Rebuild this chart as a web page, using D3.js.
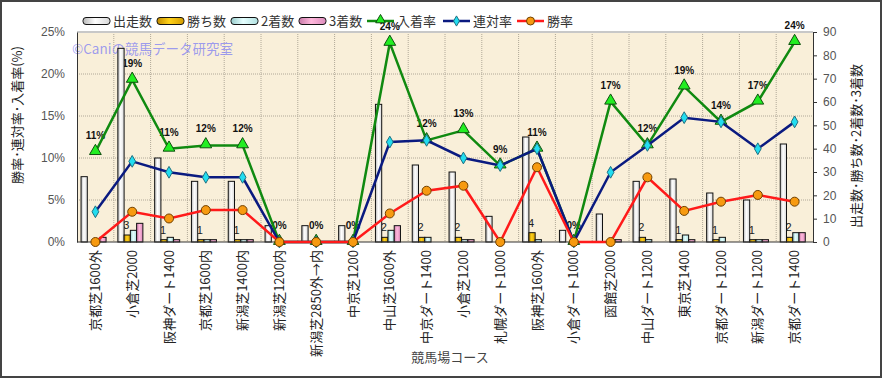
<!DOCTYPE html>
<html lang="ja">
<head>
<meta charset="utf-8">
<script src="https://cdn.jsdelivr.net/npm/d3@7"></script>
<style>
  body { margin: 0; background: #fff; }
  text { font-family: "Noto Sans CJK JP", "Liberation Sans", sans-serif; }
</style>
</head>
<body>
<script>
// courses and counts
const courses = ['京都芝1600外', '小倉芝2000', '阪神ダート1400', '京都芝1600内', '新潟芝1400内',
  '新潟芝1200内', '新潟芝2850外→内', '中京芝1200', '中山芝1600外', '中京ダート1400',
  '小倉芝1200', '札幌ダート1000', '阪神芝1600外', '小倉ダート1000', '函館芝2000',
  '中山ダート1200', '東京芝1400', '京都ダート1200', '新潟ダート1200', '京都ダート1400'];
const runs    = [28, 83, 36, 26, 26, 7, 7, 7, 59, 33, 30, 11, 45, 5, 12, 26, 27, 21, 18, 42];
const wins    = [0, 3, 1, 1, 1, 0, 0, 0, 2, 2, 2, 0, 4, 0, 0, 2, 1, 1, 1, 2];
const seconds = [1, 5, 2, 1, 1, 0, 0, 0, 5, 2, 1, 1, 1, 0, 1, 1, 3, 2, 1, 4];
const thirds  = [2, 8, 1, 1, 1, 0, 0, 0, 7, 0, 1, 0, 0, 0, 1, 0, 1, 0, 1, 4];
// rates (%)
const winRate    = [0, 3.6, 2.8, 3.8, 3.8, 0, 0, 0, 3.4, 6.1, 6.7, 0, 8.9, 0, 0, 7.7, 3.7, 4.8, 5.6, 4.8];
const rentaiRate = [3.6, 9.6, 8.3, 7.7, 7.7, 0, 0, 0, 11.9, 12.1, 10.0, 9.1, 11.1, 0, 8.3, 11.5, 14.8, 14.3, 11.1, 14.3];
const placeRate  = [10.7, 19.3, 11.1, 11.5, 11.5, 0, 0, 0, 23.7, 12.1, 13.3, 9.1, 11.1, 0, 16.7, 11.5, 18.5, 14.3, 16.7, 23.8];
const rateTicks  = [0, 5, 10, 15, 20, 25];
const countTicks = [0, 10, 20, 30, 40, 50, 60, 70, 80, 90];

const W = 882, H = 378;
const plot = {left: 77, right: 813, top: 32, bottom: 242};

const svg = d3.select('body').append('svg').attr('width', W).attr('height', H);

// gradients
const defs = svg.append('defs');
const grads = {
  run:  ['#b8b8b8', '#ffffff', '#d8d8d8'],
  win:  ['#c08a00', '#ffd21a', '#d49c00'],
  sec:  ['#98cccc', '#e6ffff', '#b0e0e0'],
  thr:  ['#c87aa8', '#ffb8dc', '#dc8cbc']
};
Object.keys(grads).forEach(function(k) {
  const g = defs.append('linearGradient').attr('id', 'g_' + k)
    .attr('x1', 0).attr('x2', 1).attr('y1', 0).attr('y2', 0);
  g.append('stop').attr('offset', '0%').attr('stop-color', grads[k][0]);
  g.append('stop').attr('offset', '45%').attr('stop-color', grads[k][1]);
  g.append('stop').attr('offset', '100%').attr('stop-color', grads[k][2]);
});

svg.append('rect').attr('x', 1).attr('y', 1).attr('width', W - 2).attr('height', H - 2)
  .attr('fill', '#fff').attr('stroke', '#444').attr('stroke-width', 2);

const x = d3.scaleBand().domain(courses).range([plot.left, plot.right]);
const xi = d3.scaleBand().domain(['run', 'win', 'sec', 'thr'])
  .range([x.bandwidth() * 0.11, x.bandwidth() * 0.79]);
const yRate = d3.scaleLinear().domain([0, 25]).range([plot.bottom, plot.top]);
const yCount = d3.scaleLinear().domain([0, 90]).range([plot.bottom, plot.top]);

// plot background
svg.append('rect').attr('x', plot.left).attr('y', plot.top)
  .attr('width', plot.right - plot.left).attr('height', plot.bottom - plot.top)
  .attr('fill', '#f9efd9');

// grid
svg.append('g').selectAll('line').data(rateTicks.slice(1, -1)).enter().append('line')
  .attr('x1', plot.left).attr('x2', plot.right)
  .attr('y1', d => yRate(d)).attr('y2', d => yRate(d))
  .attr('stroke', '#b0a898').attr('stroke-dasharray', '1,1');
svg.append('g').selectAll('line').data(courses.slice(1)).enter().append('line')
  .attr('x1', d => x(d)).attr('x2', d => x(d))
  .attr('y1', plot.top).attr('y2', plot.bottom)
  .attr('stroke', '#b0a898').attr('stroke-dasharray', '1,1');
svg.append('line').attr('x1', plot.left).attr('x2', plot.right)
  .attr('y1', plot.top).attr('y2', plot.top).attr('stroke', '#c8c8c8').attr('stroke-width', 2);

// watermark
svg.append('text').attr('x', 72).attr('y', 54).text('©Caniの競馬データ研究室')
  .attr('font-size', 13.5).attr('fill', '#8c8cf0').attr('fill-opacity', 0.85);

// rate labels (under bars)
svg.append('g').selectAll('text').data(placeRate).enter().append('text')
  .attr('x', (d, i) => x(courses[i]) + x.bandwidth() / 2)
  .attr('y', d => yRate(d) - 13)
  .attr('text-anchor', 'middle').attr('font-size', 10).attr('font-weight', 'bold')
  .style('font-family', '"Liberation Sans", sans-serif')
  .attr('fill', '#111').text(d => Math.round(d) + '%');

// win count labels
const winLab = svg.append('g');
wins.forEach(function(d, i) {
  if (d <= 0) return;
  winLab.append('text')
    .attr('x', x(courses[i]) + xi('win') + xi.bandwidth() / 2 - 1)
    .attr('y', yCount(d) - 6)
    .attr('text-anchor', 'middle').attr('font-size', 11)
    .style('font-family', '"Liberation Sans", sans-serif')
    .attr('fill', '#222').text(d);
});

// bars
const series = [['run', runs], ['win', wins], ['sec', seconds], ['thr', thirds]];
series.forEach(function(s) {
  svg.append('g').selectAll('rect').data(s[1]).enter().append('rect')
    .attr('x', (d, i) => x(courses[i]) + xi(s[0]))
    .attr('y', d => yCount(d))
    .attr('width', xi.bandwidth())
    .attr('height', d => yCount(0) - yCount(d))
    .attr('fill', 'url(#g_' + s[0] + ')')
    .attr('stroke', '#111').attr('stroke-width', 1);
});

// axes
const leftAxis = svg.append('g').attr('transform', 'translate(' + plot.left + ',0)')
  .call(d3.axisLeft(yRate).tickValues(rateTicks).tickFormat(d => d + '%').tickSize(0).tickPadding(12));
const rightAxis = svg.append('g').attr('transform', 'translate(' + plot.right + ',0)')
  .call(d3.axisRight(yCount).tickValues(countTicks).tickSize(4).tickPadding(6));
[leftAxis, rightAxis].forEach(function(a) {
  a.select('.domain').attr('stroke', '#333');
  a.selectAll('text').attr('font-size', 12).attr('fill', '#555')
    .style('font-family', '"Liberation Sans", sans-serif');
  a.selectAll('line').attr('stroke', '#333');
});
svg.append('line').attr('x1', plot.left).attr('x2', plot.right)
  .attr('y1', plot.bottom).attr('y2', plot.bottom).attr('stroke', '#333');

// lines
const cx = i => x(courses[i]) + x.bandwidth() / 2;
const lineGen = y => d3.line().x((d, i) => cx(i)).y(d => y(d));

svg.append('path').datum(placeRate).attr('d', lineGen(yRate))
  .attr('fill', 'none').attr('stroke', '#108a10').attr('stroke-width', 2.5);
svg.append('g').selectAll('path').data(placeRate).enter().append('path')
  .attr('d', d3.symbol(d3.symbolTriangle, 60))
  .attr('transform', (d, i) => 'translate(' + cx(i) + ',' + (yRate(d) - 1) + ')')
  .attr('fill', '#22ee22').attr('stroke', '#105010');

svg.append('path').datum(rentaiRate).attr('d', lineGen(yRate))
  .attr('fill', 'none').attr('stroke', '#0a1a80').attr('stroke-width', 2.5);
svg.append('g').selectAll('path').data(rentaiRate).enter().append('path')
  .attr('d', d3.symbol(d3.symbolDiamond, 40))
  .attr('transform', (d, i) => 'translate(' + cx(i) + ',' + yRate(d) + ')')
  .attr('fill', '#22ddf0').attr('stroke', '#207080');

svg.append('path').datum(winRate).attr('d', lineGen(yRate))
  .attr('fill', 'none').attr('stroke', '#ff1a1a').attr('stroke-width', 2.5);
svg.append('g').selectAll('circle').data(winRate).enter().append('circle')
  .attr('cx', (d, i) => cx(i)).attr('cy', d => yRate(d)).attr('r', 4.5)
  .attr('fill', '#f79a10').attr('stroke', '#704000');

// x labels
svg.append('g').selectAll('text').data(courses).enter().append('text')
  .attr('transform', d => 'translate(' + (x(d) + x.bandwidth() / 2) + ',250) rotate(-90)')
  .attr('text-anchor', 'end').attr('dy', '0.35em')
  .attr('font-size', 13).attr('fill', '#222').text(d => d);

// axis titles
svg.append('text').attr('x', 450).attr('y', 362).attr('text-anchor', 'middle')
  .attr('font-size', 13).attr('fill', '#444').text('競馬場コース');
svg.append('text').attr('transform', 'translate(22,115) rotate(-90)')
  .attr('text-anchor', 'middle').attr('font-size', 13).attr('fill', '#222')
  .text('勝率･連対率･入着率(%)');
svg.append('text').attr('transform', 'translate(861,146) rotate(-90)')
  .attr('text-anchor', 'middle').attr('font-size', 13).attr('fill', '#222')
  .text('出走数･勝ち数･2着数･3着数');

// legend
const legendItems = [
  {label: '出走数', type: 'bar', key: 'run', x: 83},
  {label: '勝ち数', type: 'bar', key: 'win', x: 157},
  {label: '2着数', type: 'bar', key: 'sec', x: 231},
  {label: '3着数', type: 'bar', key: 'thr', x: 299},
  {label: '入着率', type: 'place', x: 367},
  {label: '連対率', type: 'rentai', x: 443},
  {label: '勝率', type: 'win', x: 517}
];
const lg = svg.append('g');
legendItems.forEach(function(it) {
  const g = lg.append('g').attr('transform', 'translate(' + it.x + ',21)');
  if (it.type === 'bar') {
    g.append('rect').attr('x', 0).attr('y', -3.5).attr('width', 27).attr('height', 7)
      .attr('rx', 3).attr('fill', 'url(#g_' + it.key + ')').attr('stroke', '#111');
  } else {
    const col = {place: '#108a10', rentai: '#0a1a80', win: '#ff1a1a'}[it.type];
    g.append('line').attr('x1', 0).attr('x2', 27).attr('stroke', col).attr('stroke-width', 2.5);
    if (it.type === 'place') {
      g.append('path').attr('d', d3.symbol(d3.symbolTriangle, 40)).attr('transform', 'translate(13.5,-1)')
        .attr('fill', '#22ee22').attr('stroke', '#105010');
    } else if (it.type === 'rentai') {
      g.append('path').attr('d', d3.symbol(d3.symbolDiamond, 30)).attr('transform', 'translate(13.5,0)')
        .attr('fill', '#22ddf0').attr('stroke', '#207080');
    } else {
      g.append('circle').attr('cx', 13.5).attr('r', 4).attr('fill', '#f79a10').attr('stroke', '#704000');
    }
  }
  g.append('text').attr('x', 30).attr('y', 5).attr('font-size', 13).attr('fill', '#333').text(it.label);
});
</script>
</body>
</html>
